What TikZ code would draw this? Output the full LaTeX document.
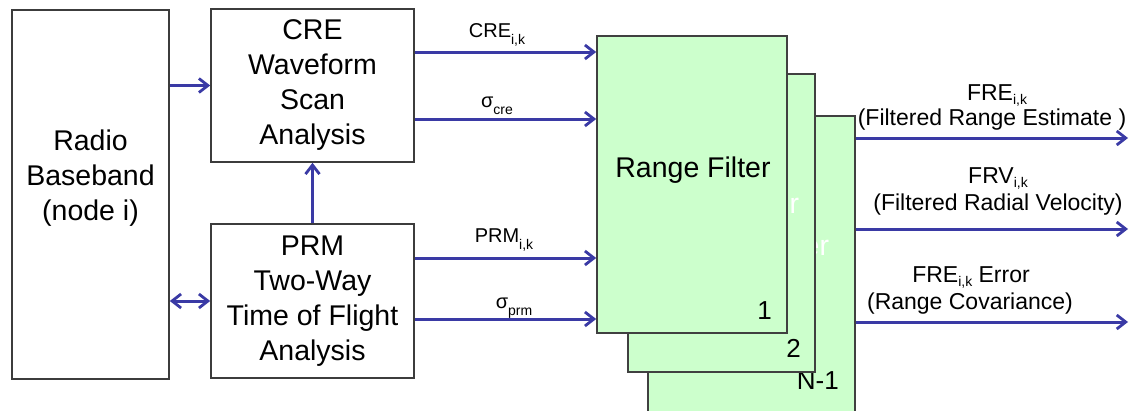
\documentclass[tikz,border=0pt]{standalone}
\usepackage{fontspec}
\setmainfont{Liberation Sans}
\usetikzlibrary{arrows.meta}
\definecolor{arrowblue}{RGB}{58,58,165}
\definecolor{filtergreen}{RGB}{204,255,204}
\definecolor{boxgray}{RGB}{60,60,60}
\newcommand{\mysub}[1]{\raisebox{-7pt}{\fontsize{14}{14}\selectfont #1}}
\newcommand{\mysubout}[1]{\raisebox{-4.5pt}{\fontsize{14}{14}\selectfont #1}}
\begin{document}
\begin{tikzpicture}[x=1pt,y=-1pt,
  blockbox/.style={draw=boxgray,line width=1.6pt,fill=white,inner sep=0pt},
  filterbox/.style={draw=black!75,line width=1.6pt,fill=filtergreen,inner sep=0pt},
  flow/.style={draw=arrowblue,line width=3pt,-{Straight Barb[length=9pt,width=14pt,line width=2.8pt]}},
  flowboth/.style={draw=arrowblue,line width=3pt,{Straight Barb[length=9pt,width=14pt,line width=2.8pt]}-{Straight Barb[length=9pt,width=14pt,line width=2.8pt]}},
  bigtext/.style={font=\fontsize{28.5}{35}\selectfont,align=center},
  filtertext/.style={font=\fontsize{28.5}{34}\selectfont,inner sep=0pt},
  hiddentext/.style={filtertext,text=white},
  numtext/.style={font=\fontsize{26}{30}\selectfont,inner sep=0pt},
  inlabel/.style={font=\fontsize{20}{24}\selectfont,inner sep=0pt,anchor=base},
  outlabel/.style={font=\fontsize{23}{26}\selectfont,inner sep=0pt,anchor=base}
]
\useasboundingbox (0,0) rectangle (1133,410);
\fill[white] (0,0) rectangle (1133,410);

% left blocks
\node[blockbox,minimum width=157pt,minimum height=369pt] (radio) at (90.5,194.5) {};
\node[bigtext] (radiotext) at (90.5,178) {Radio\\Baseband\\(node i)};
\node[blockbox,bigtext,minimum width=203pt,minimum height=153pt] (cre) at (312.5,85.5) {CRE\\Waveform\\Scan\\Analysis};
\node[blockbox,bigtext,minimum width=203pt,minimum height=154pt] (prm) at (312.5,301) {PRM\\Two-Way\\Time of Flight\\Analysis};

% range filter stack
\node[filterbox,minimum width=207pt,minimum height=302pt] (rf3) at (751.5,267) {};
\node[hiddentext,anchor=base] (rf3text) at (751.5,255) {Range Filter};
\node[numtext,anchor=base east] (rf3num) at (839,389) {N-1};
\node[filterbox,minimum width=187pt,minimum height=298pt] (rf2) at (721.5,223) {};
\node[hiddentext,anchor=base] (rf2text) at (721.5,213) {Range Filter};
\node[numtext,anchor=base east] (rf2num) at (801,357) {2};
\node[filterbox,minimum width=190pt,minimum height=297pt] (rf1) at (692,184.5) {};
\node[filtertext,anchor=base] (rf1text) at (693,177) {Range Filter};
\node[numtext,anchor=base east] (rf1num) at (772,319) {1};

% connectors on the left
\draw[flow] (radio.east |- cre.west) -- (cre.west);
\draw[flowboth] (radio.east |- prm.west) -- (prm.west);
\draw[flow] (prm.north) -- (cre.south);

% inputs to the range filter
\coordinate (yin1) at (0,52);
\coordinate (yin2) at (0,119);
\coordinate (yin3) at (0,258);
\coordinate (yin4) at (0,319);
\draw[flow] (cre.east |- yin1) -- (rf1.west |- yin1);
\draw[flow] (cre.east |- yin2) -- (rf1.west |- yin2);
\draw[flow] (prm.east |- yin3) -- (rf1.west |- yin3);
\draw[flow] (prm.east |- yin4) -- (rf1.west |- yin4);
\node[inlabel] (lcre) at (497,37) {CRE\mysub{i,k}};
\node[inlabel] (lsigcre) at (497,107) {σ\mysub{cre}};
\node[inlabel] (lprm) at (504,242) {PRM\mysub{i,k}};
\node[inlabel] (lsigprm) at (514,308) {σ\mysub{prm}};

% outputs
\coordinate (out1) at (1128,138);
\coordinate (out2) at (1128,229);
\coordinate (out3) at (1128,322);
\draw[flow] (rf3.east |- out1) -- (out1);
\draw[flow] (rf3.east |- out2) -- (out2);
\draw[flow] (rf3.east |- out3) -- (out3);
\node[outlabel] (lfre1) at (997,100) {FRE\mysubout{i,k}};
\node[outlabel] (lfre2) at (992,125) {(Filtered Range Estimate )};
\node[outlabel] (lfrv1) at (998,183) {FRV\mysubout{i,k}};
\node[outlabel] (lfrv2) at (998,210) {(Filtered Radial Velocity)};
\node[outlabel] (lerr1) at (971,282) {FRE\mysubout{i,k} Error};
\node[outlabel] (lerr2) at (970,309) {(Range Covariance)};
\end{tikzpicture}
\end{document}
